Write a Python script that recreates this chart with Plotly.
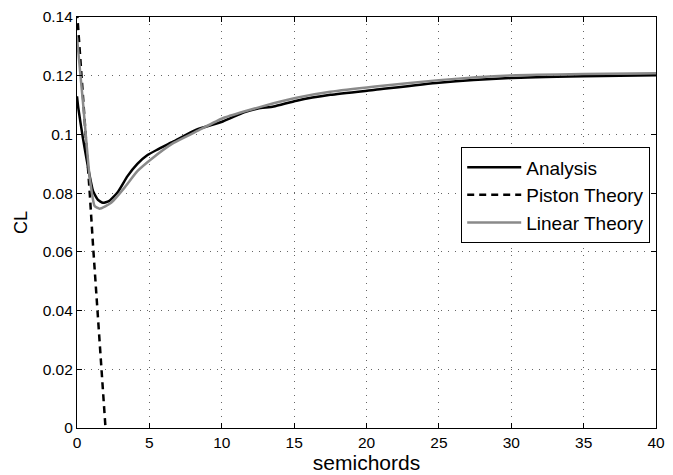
import plotly.graph_objects as go

# Analysis (black solid)
ana_x = [0, 0.09, 0.4, 0.77, 1.11, 1.45, 1.79, 2.2, 2.81, 3.49, 4.17, 4.85, 5.5, 6.67, 8.25, 10.07, 11.54, 12.5, 13.58, 15.17, 17.5, 20.6, 25.0, 30.0, 35.0, 40.0]
ana_y = [0.113, 0.109, 0.099, 0.0886, 0.0807, 0.0777, 0.0767, 0.0773, 0.0803, 0.0858, 0.0900, 0.0929, 0.0947, 0.0976, 0.1016, 0.1044, 0.1075, 0.1088, 0.1095, 0.1115, 0.1135, 0.1152, 0.1176, 0.1192, 0.1198, 0.1202]

# Piston Theory (black dashed)
pis_x = [0, 0.45, 0.88, 1.11, 1.4, 1.68, 1.97]
pis_y = [0.142, 0.112, 0.080, 0.062, 0.041, 0.020, 0.0]

# Linear Theory (gray solid)
lin_x = [0, 0.43, 0.88, 1.22, 1.56, 2.36, 3.27, 4.17, 5.08, 6.67, 8.25, 10.07, 11.54, 13.58, 15.17, 17.5, 20.6, 25.0, 30.0, 35.0, 40.0]
lin_y = [0.133, 0.110, 0.0852, 0.0756, 0.0747, 0.0767, 0.0818, 0.0875, 0.0914, 0.0971, 0.1010, 0.1055, 0.1078, 0.1106, 0.1125, 0.1145, 0.1163, 0.1185, 0.1201, 0.1206, 0.1208]

x_ticks = [0, 5, 10, 15, 20, 25, 30, 35, 40]
y_ticks = [0, 0.02, 0.04, 0.06, 0.08, 0.1, 0.12, 0.14]
y_labels = ["0", "0.02", "0.04", "0.06", "0.08", "0.1", "0.12", "0.14"]

fig = go.Figure()
fig.add_trace(go.Scatter(x=ana_x, y=ana_y, mode="lines", name="Analysis",
                         line=dict(color="black", width=2.5, shape="spline", smoothing=0.5)))
fig.add_trace(go.Scatter(x=pis_x, y=pis_y, mode="lines", name="Piston Theory",
                         line=dict(color="black", width=2.5, dash="7px,5px")))
fig.add_trace(go.Scatter(x=lin_x, y=lin_y, mode="lines", name="Linear Theory",
                         line=dict(color="#8a8a8a", width=2.5, shape="spline", smoothing=0.5)))

font = "Liberation Sans, Arial, Helvetica, sans-serif"
axis_common = dict(showline=True, linecolor="black", linewidth=1.2, mirror="allticks",
                   ticks="inside", ticklen=5, tickcolor="black",
                   showgrid=True, gridcolor="rgba(0,0,0,0.6)", griddash="1px,6px", gridwidth=1,
                   zeroline=False, tickfont=dict(family=font, size=15.5, color="black"))

fig.update_layout(
    width=673, height=475,
    margin=dict(l=77, r=8, t=15, b=47),
    paper_bgcolor="white", plot_bgcolor="white",
    font=dict(family=font, color="black"),
    xaxis=dict(range=[0, 40], tickvals=x_ticks, ticktext=[str(v) for v in x_ticks],
               title=dict(text="semichords", font=dict(size=21), standoff=0), **axis_common),
    yaxis=dict(range=[0, 0.14], tickvals=y_ticks, ticktext=y_labels,
               title=dict(text="CL", font=dict(size=18), standoff=10), **axis_common),
    legend=dict(x=0.99, y=0.683, xanchor="right", yanchor="top",
                bordercolor="black", borderwidth=1, bgcolor="white",
                font=dict(family=font, size=19, color="black"),
                itemwidth=54, tracegroupgap=0),
    showlegend=True,
)

fig.write_html("out.html")
